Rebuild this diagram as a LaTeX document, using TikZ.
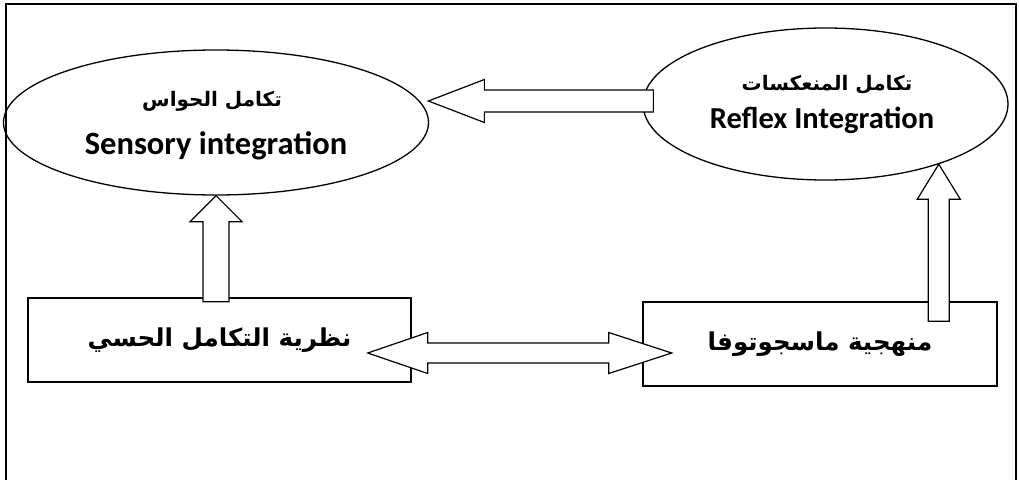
\documentclass[tikz,border=0pt]{standalone}
\usepackage{fontspec}
\setmainfont{Carlito}
\newfontfamily\arabicfont[Script=Arabic]{DejaVu Sans}
\TeXXeTstate=1
\usetikzlibrary{shapes.geometric}
\tikzset{
  oval/.style={draw, ellipse, line width=1.3pt, inner sep=0pt},
  box/.style={draw, rectangle, line width=1.4pt, inner sep=0pt},
  fatarrow/.style={draw, fill=white, line width=1.2pt, line join=miter},
  arsmall/.style={font=\arabicfont\bfseries\fontsize{20}{20}\selectfont},
  arbig/.style={font=\arabicfont\bfseries\fontsize{24.6}{24.6}\selectfont},
  ensmall/.style={font=\bfseries\fontsize{32.5}{32.5}\selectfont},
}
\begin{document}
\begin{tikzpicture}[x=1pt, y=-1pt]
        \useasboundingbox (0,0) rectangle (1019,479);
        \draw[line width=2pt] (6,4) rectangle (1016,530);
        % the two ovals
        \node[oval, minimum width=425pt, minimum height=145pt] (sens) at (216,122.5) {};
        \node[oval, minimum width=365pt, minimum height=152pt] (reflex) at (825.5,104) {};
        \node[arsmall] (sensar) at (212,101) {\beginR تكامل الحواس\endR};
        \node[ensmall] (sensen) at (216,146) {Sensory integration};
        \node[arsmall] (reflexar) at (827,85) {\beginR تكامل المنعكسات\endR};
        \node[ensmall, font=\bfseries\fontsize{30.5}{30.5}\selectfont] (reflexen) at (822,120) {Reflex Integration};
        % the two boxes
        \node[box, arbig, minimum width=383pt, minimum height=84pt] (theory) at (219.5,340) {\beginR نظرية التكامل الحسي\endR};
        \node[box, arbig, minimum width=354pt, minimum height=84pt] (method) at (820,344) {\beginR منهجية ماسجوتوفا\endR};
        % block arrows
        \draw[fatarrow] (sens.south) -- ++(26,26) -- ++(-13,0) -- ++(0,80)
            -- ++(-26,0) -- ++(0,-80) -- ++(-13,0) -- cycle;
        \draw[fatarrow] (reflex.-28) -- ++(21.5,35) -- ++(-11,0) -- ++(0,122)
            -- ++(-21,0) -- ++(0,-122) -- ++(-11,0) -- cycle;
        \draw[fatarrow] ([xshift=11pt,yshift=3pt]reflex.west) -- ++(0,-11) -- ++(-169,0)
            -- ++(0,-10.5) -- ++(-56,21.5) -- ++(56,21.5) -- ++(0,-10.5) -- ++(169,0) -- cycle;
        \draw[fatarrow] ([xshift=-44pt,yshift=-13pt]theory.east) -- ++(60,-20.5) -- ++(0,10.5)
            -- ++(181,0) -- ++(0,-10.5) -- ++(63,20.5) -- ++(-63,20.5) -- ++(0,-10.5)
            -- ++(-181,0) -- ++(0,10.5) -- cycle;
\end{tikzpicture}
\end{document}
